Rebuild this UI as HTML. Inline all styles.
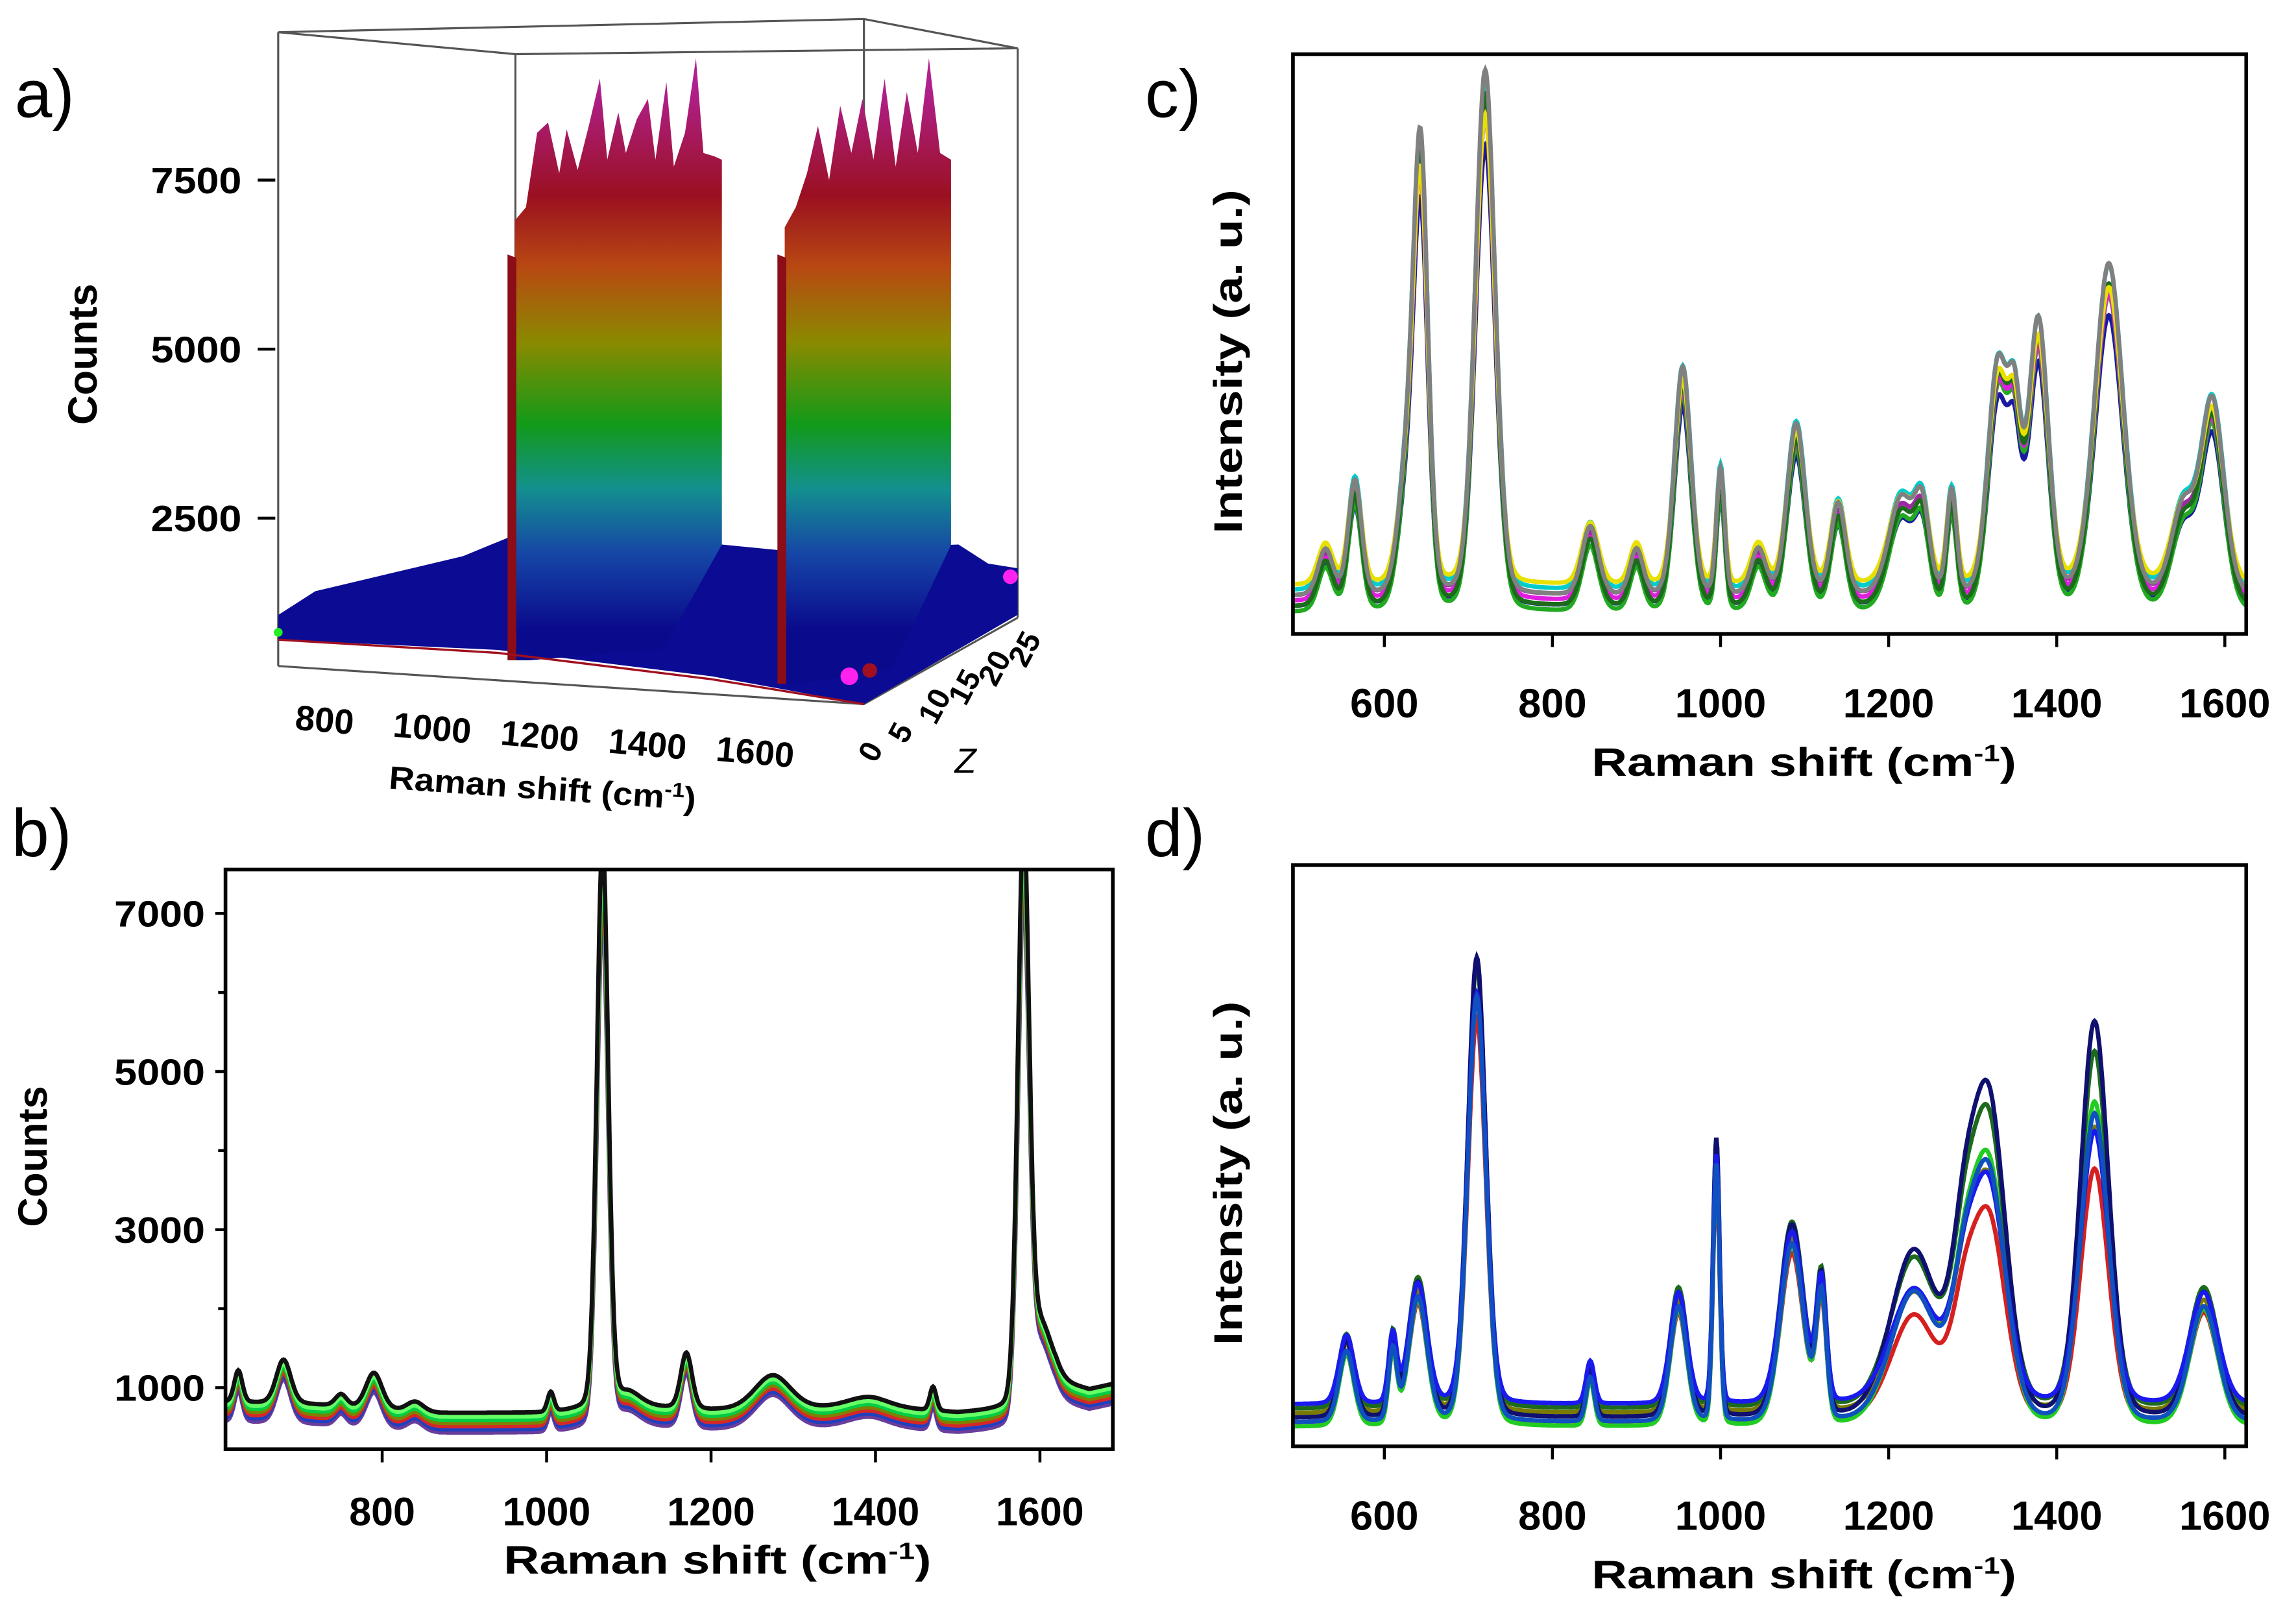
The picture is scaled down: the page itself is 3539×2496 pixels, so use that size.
<!DOCTYPE html>
<html><head><meta charset="utf-8"><style>
html,body{margin:0;padding:0;background:#fff;}
svg{display:block;}
text{font-family:"Liberation Sans",sans-serif;}
</style></head><body>
<svg id="fig" width="3539" height="2496" viewBox="0 0 1568 1106" preserveAspectRatio="none" xmlns="http://www.w3.org/2000/svg">
<defs>
<linearGradient id="rain" gradientUnits="userSpaceOnUse" x1="0" y1="60" x2="0" y2="430">
<stop offset="0" stop-color="#b0208e"/><stop offset="0.2" stop-color="#9a1020"/><stop offset="0.33" stop-color="#b84812"/>
<stop offset="0.47" stop-color="#8a8a00"/><stop offset="0.62" stop-color="#129a18"/><stop offset="0.74" stop-color="#13908e"/>
<stop offset="0.86" stop-color="#1646a6"/><stop offset="1" stop-color="#0a0a8c"/></linearGradient>
</defs>
<rect width="1568" height="1106" fill="#fff"/>
<g id="pa"></g>
<g id="pb"></g>
<g id="pc"></g>
<g id="pd"></g>
</svg>
<script>
// ---------- Panel b data ----------
const bTicksY = [1000, 3000, 5000, 7000];
const bMinorY = [2000, 4000, 6000];
const bTicksX = [800, 1000, 1200, 1400, 1600];
const bBaseX = [610, 700, 870, 1000, 1100, 1200, 1400, 1500, 1560, 1620, 1660, 1700];
const bBaseY = [700, 680, 560, 560, 650, 600, 640, 560, 600, 950, 850, 950];
const bPeakC = [625, 680, 750, 790, 840, 1005, 1068, 1100, 1170, 1275, 1390, 1470, 1580, 1600];
const bPeakH = [400, 550, 150, 450, 120, 250, 6850, 150, 700, 420, 120, 300, 6750, 800];
const bPeakW = [5, 9, 7, 10, 10, 4, 7, 15, 7, 22, 25, 4, 7, 14];
const bOffsets = [-130, -90, -50, -10, 30, 70, 120];
const bColors = ['#6a3d9a', '#1f3fbf', '#d62728', '#808000', '#00cc44', '#66ff66', '#111111'];
// ---------- Panel c data ----------
const cTicksX = [600, 800, 1000, 1200, 1400, 1600];
const cPeakC = [530, 565, 625, 643, 720, 845, 900, 955, 1000, 1045, 1090, 1140, 1215, 1240, 1275, 1330, 1350, 1378, 1462, 1550, 1585];
const cPeakH = [8, 20, 18, 78, 92, 12, 8, 40, 22, 8, 30, 16, 17, 14, 18, 40, 26, 48, 58, 15, 34];
const cPeakW = [9, 8, 10, 9, 12, 10, 8, 10, 5, 9, 11, 9, 15, 9, 6, 12, 8, 12, 17, 14, 14];
const cScale = [0.92, 0.96, 1.0, 1.03, 0.97, 1.02, 0.94, 1.05];
const cOffsets = [2, 4, 1, 5, 3, 2, 6, 4];
const cColors = ['#1a1aa0', '#9a2aa0', '#22aa22', '#00cccc', '#e01ee0', '#1c6b1c', '#e8e000', '#808080'];
// ---------- Panel d data ----------
const dPeakC = [555, 610, 640, 710, 845, 950, 995, 1085, 1120, 1230, 1290, 1320, 1445, 1575];
const dPeakH = [16, 16, 28, 96, 10, 26, 58, 40, 28, 30, 26, 55, 72, 26];
const dPeakW = [9, 5, 11, 11, 5, 10, 4, 14, 6, 28, 16, 20, 17, 17];
const dScale = [0.78, 0.88, 1.0, 1.1, 1.22, 0.84, 0.95];
const dOffsets = [4, 6, 3, 7, 5, 8, 4];
const dColors = ['#d62020', '#7a7a00', '#22cc22', '#1c6b1c', '#101070', '#1a1aee', '#1050c0'];
// ---------- Panel a data (column position u along box width 0..1, counts) ----------
const aTicksY = [2500, 5000, 7500];
const aTicksX = [800, 1000, 1200, 1400, 1600];
const aTicksZ = [0, 5, 10, 15, 20, 25];
const aBand1U = [0.32, 0.335, 0.35, 0.365, 0.38, 0.39, 0.405, 0.42, 0.435, 0.445, 0.46, 0.47, 0.485, 0.5, 0.51, 0.525, 0.535, 0.55, 0.565, 0.575, 0.59, 0.6];
const aBand1H = [6900, 7100, 8200, 8350, 7600, 8250, 7650, 8300, 9000, 7800, 8500, 7900, 8400, 8700, 7800, 8950, 7700, 8200, 9300, 7900, 7850, 7800];
const aBand2U = [0.685, 0.7, 0.715, 0.73, 0.745, 0.76, 0.775, 0.79, 0.805, 0.82, 0.835, 0.85, 0.865, 0.88, 0.895, 0.91];
const aBand2H = [6800, 7100, 7600, 8300, 7500, 8600, 7900, 8700, 7800, 9000, 7700, 8800, 7900, 9300, 7900, 7800];
const aBaseU = [0, 0.05, 0.15, 0.25, 0.317, 0.6, 0.685, 0.92, 0.96, 1];
const aBaseH = [1070, 1420, 1680, 1940, 2240, 2110, 2020, 2110, 1830, 1760];

const NS = 'http://www.w3.org/2000/svg';
function mk(parent, tag, attrs, txt) {
  const e = document.createElementNS(NS, tag);
  for (const k in attrs) e.setAttribute(k, attrs[k]);
  if (txt !== undefined) e.textContent = txt;
  parent.appendChild(e);
  return e;
}
function interp(xs, ys, x) {
  if (x <= xs[0]) return ys[0];
  for (let i = 1; i < xs.length; i++) if (x <= xs[i]) { const t = (x - xs[i-1]) / (xs[i] - xs[i-1]); return ys[i-1] + t * (ys[i] - ys[i-1]); }
  return ys[ys.length - 1];
}
function peaks(x, C, H, W, mult) {
  let s = 0;
  for (let i = 0; i < C.length; i++) { const u = (x - C[i]) / W[i]; s += H[i] * (mult ? mult(i) : 1) * (0.85 * Math.exp(-u * u / 2) + 0.15 / (1 + u * u)); }
  return s;
}
function title(g, x, y, s, len, size) {
  const t = mk(g, 'text', {x: x, y: y, 'font-size': size || 27, 'font-weight': 'bold', 'text-anchor': 'middle', textLength: len, lengthAdjust: 'spacingAndGlyphs'});
  t.textContent = s.main;
  mk(t, 'tspan', {'font-size': (size || 27) * 0.6, dy: -10}, s.sup);
  mk(t, 'tspan', {dy: 10}, ')');
  return t;
}

// ================= Panel b =================
(function(){
  const g = document.getElementById('pb');
  const L = 154, R = 760, T = 594, B = 990;
  const sx = v => 261 + (v - 800) * 0.5615;
  const sy = v => 948 - (v - 1000) * 0.054;
  const lab = mk(g, 'text', {x: 8, y: 585, 'font-size': 46}, 'b)');
  
  
  const cp = mk(mk(g, 'defs', {}), 'clipPath', {id: 'clipb'});
  mk(cp, 'rect', {x: L, y: T, width: R - L, height: B - T});
  const lines = mk(g, 'g', {'clip-path': 'url(#clipb)'});
  bOffsets.forEach((off, si) => {
    let d = '';
    for (let x = 600; x <= 1705; x += 1) {
      const v = interp(bBaseX, bBaseY, x) + peaks(x, bPeakC, bPeakH, bPeakW, i => (bPeakH[i] > 3000 ? 1 + off / 2500 : 1)) + off;
      d += (d ? 'L' : 'M') + sx(x).toFixed(1) + ' ' + sy(v).toFixed(1);
    }
    const p = mk(lines, 'path', {d: d, fill: 'none', stroke: bColors[si], 'stroke-width': 3});
    
    
  });
  const fr = mk(g, 'rect', {x: L, y: T, width: R - L, height: B - T, fill: 'none', stroke: '#000', 'stroke-width': 2.5});
  
  
  bTicksY.forEach(v => {
    mk(g, 'line', {x1: L - 7, x2: L, y1: sy(v), y2: sy(v), stroke: '#000', 'stroke-width': 2});
    const t = mk(g, 'text', {x: L - 14, y: sy(v) + 9, 'font-size': 25, 'font-weight': 'bold', 'text-anchor': 'end', textLength: 62, lengthAdjust: 'spacingAndGlyphs'}, String(v));
    
    
  });
  bMinorY.forEach(v => mk(g, 'line', {x1: L - 5, x2: L, y1: sy(v), y2: sy(v), stroke: '#000', 'stroke-width': 2}));
  bTicksX.forEach(v => {
    mk(g, 'line', {x1: sx(v), x2: sx(v), y1: B, y2: B + 9, stroke: '#000', 'stroke-width': 2});
    const t = mk(g, 'text', {x: sx(v), y: B + 52, 'font-size': 27, 'font-weight': 'bold', 'text-anchor': 'middle'}, String(v));
    
    
  });
  const xt = title(g, 490, 1075, {main: 'Raman shift (cm', sup: '-1'}, 292);
  
  
  const yt = mk(g, 'text', {x: 32, y: 790, 'font-size': 28, 'font-weight': 'bold', 'text-anchor': 'middle', transform: 'rotate(-90 32 790)'}, 'Counts');
  
  
})();

// ================= Panels c & d =================
function specPanel(gid, letter, T, B, base0, top100, C, H, W, scales, offs, cols, bigMult, labY) {
  const g = document.getElementById(gid);
  const L = 883, R = 1534;
  const sx = v => 1175 + (v - 1000) * 0.574;
  const sy = v => base0 - v * (base0 - top100) / 100;
  const lab = mk(g, 'text', {x: 782, y: labY, 'font-size': 46}, letter + ')');
  
  
  const cp = mk(mk(g, 'defs', {}), 'clipPath', {id: 'clip' + letter});
  mk(cp, 'rect', {x: L, y: T, width: R - L, height: B - T});
  const lines = mk(g, 'g', {'clip-path': `url(#clip${letter})`});
  scales.forEach((sc, si) => {
    let d = '';
    for (let x = 488; x <= 1630; x += 1) {
      const v = offs[si] + peaks(x, C, H, W, i => bigMult(i, sc));
      d += (d ? 'L' : 'M') + sx(x).toFixed(1) + ' ' + sy(v).toFixed(1);
    }
    const p = mk(lines, 'path', {d: d, fill: 'none', stroke: cols[si], 'stroke-width': 3});
    
    
  });
  const fr = mk(g, 'rect', {x: L, y: T, width: R - L, height: B - T, fill: 'none', stroke: '#000', 'stroke-width': 2.5});
  
  
  cTicksX.forEach(v => {
    mk(g, 'line', {x1: sx(v), x2: sx(v), y1: B, y2: B + 9, stroke: '#000', 'stroke-width': 2});
    const t = mk(g, 'text', {x: sx(v), y: B + 57, 'font-size': 28, 'font-weight': 'bold', 'text-anchor': 'middle'}, String(v));
    
    
  });
  const xt = title(g, 1232, B + 97, {main: 'Raman shift (cm', sup: '-1'}, 290);
  
  
  const ym = (T + B) / 2 + 12;
  const yt = mk(g, 'text', {x: 848, y: ym, 'font-size': 27, 'font-weight': 'bold', 'text-anchor': 'middle', textLength: 235, lengthAdjust: 'spacingAndGlyphs', transform: `rotate(-90 848 ${ym})`}, 'Intensity (a. u.)');
  
  
}
specPanel('pc', 'c', 37, 433, 422, 51, cPeakC, cPeakH, cPeakW, cScale, cOffsets, cColors, (i, sc) => sc, 80);
specPanel('pd', 'd', 591, 988, 984, 677, dPeakC, dPeakH, dPeakW, dScale, dOffsets, dColors, (i, sc) => (dPeakC[i] >= 1200 && dPeakC[i] <= 1460 ? sc : 1 + (sc - 1) * 0.3), 585);

// ================= Panel a (3D) =================
(function(){
  const g = document.getElementById('pa');
  const lab = mk(g, 'text', {x: 10, y: 80, 'font-size': 46}, 'a)');
  
  
  const pu = u => 190 + u * 505;
  const frontY = u => 437 + u * 44;
  const sy = c => 354 - (c - 2500) * 0.0462;
  const box = mk(g, 'g', {stroke: '#555', 'stroke-width': 1.4, fill: 'none'});
  
  
  mk(box, 'polyline', {points: '190,22 590,13 695,33 352,37 190,22'});
  mk(box, 'line', {x1: 352, y1: 37, x2: 352, y2: 400});
  mk(box, 'line', {x1: 695, y1: 33, x2: 695, y2: 422});
  let pts = '';
  aBaseU.forEach((u, i) => { pts += `${pu(u).toFixed(1)},${sy(aBaseH[i]).toFixed(1)} `; });
  pts += '695,420 590,481 486,462 340,444 190,437';
  const base = mk(g, 'polygon', {points: pts, fill: '#0b0b94'});
  
  
  function band(us, hs, name) {
    const u0 = us[0], u1 = us[us.length - 1];
    let p = `${pu(u0).toFixed(1)},${frontY(u0).toFixed(1)} `;
    us.forEach((u, i) => { p += `${pu(u).toFixed(1)},${sy(hs[i]).toFixed(1)} `; });
    p += `${pu(u1).toFixed(1)},${sy(interp(aBaseU, aBaseH, u1)).toFixed(1)} `;
    p += `${(pu(u1) - 40).toFixed(1)},${(frontY(u1) - 20).toFixed(1)} ${(pu(u0) + 10).toFixed(1)},${frontY(u0).toFixed(1)}`;
    const b = mk(g, 'polygon', {points: p, fill: 'url(#rain)'});
    
    
    const s = mk(g, 'polygon', {points: `${pu(u0)-5},${frontY(u0)} ${pu(u0)-5},${sy(6400)} ${pu(u0)+1},${sy(6350)} ${pu(u0)+1},${frontY(u0)}`, fill: '#8a0d18'});
    
    
  }
  band(aBand1U, aBand1H, 'surface-peak-1070');
  band(aBand2U, aBand2H, 'surface-peak-1580');
  mk(g, 'polyline', {points: '190,437 340,446 486,464 590,481', fill: 'none', stroke: '#a01020', 'stroke-width': 1.5});
  mk(box, 'line', {x1: 190, y1: 22, x2: 190, y2: 455});
  mk(box, 'line', {x1: 590, y1: 13, x2: 590, y2: 481});
  mk(box, 'polyline', {points: '190,455 590,481 695,422'});
  mk(g, 'circle', {cx: 580, cy: 462, r: 6, fill: '#ff22ee'});
  mk(g, 'circle', {cx: 594, cy: 458, r: 5, fill: '#a01020'});
  mk(g, 'circle', {cx: 690, cy: 394, r: 5, fill: '#ff22ee'});
  mk(g, 'circle', {cx: 190, cy: 432, r: 3, fill: '#22ee22'});
  aTicksY.forEach(v => {
    mk(g, 'line', {x1: 176, x2: 188, y1: sy(v), y2: sy(v), stroke: '#000', 'stroke-width': 2});
    const t = mk(g, 'text', {x: 165, y: sy(v) + 9, 'font-size': 25, 'font-weight': 'bold', 'text-anchor': 'end', textLength: 62, lengthAdjust: 'spacingAndGlyphs'}, String(v));
    
    
  });
  aTicksX.forEach((v, i) => {
    const x = 221 + i * 73.5, y = 500 + i * 5.5;
    const t = mk(g, 'text', {x: x, y: y, 'font-size': 24, 'font-weight': 'bold', 'text-anchor': 'middle', transform: `rotate(5 ${x} ${y})`}, String(v));
    
    
  });
  aTicksZ.forEach(v => {
    const x = 598 + v * 4.1, y = 522 - v * 2.6;
    const t = mk(g, 'text', {x: x, y: y, 'font-size': 21, 'font-weight': 'bold', 'text-anchor': 'start', transform: `rotate(-62 ${x} ${y})`}, String(v));
    
    
  });
  const zt = mk(g, 'text', {x: 652, y: 528, 'font-size': 24, 'font-style': 'italic'}, 'Z');
  
  
  const xt = mk(g, 'text', {x: 370, y: 546, 'font-size': 22, 'font-weight': 'bold', 'text-anchor': 'middle', textLength: 210, lengthAdjust: 'spacingAndGlyphs', transform: 'rotate(4 370 546)'}, 'Raman shift (cm');
  mk(xt, 'tspan', {'font-size': 14, dy: -8}, '-1');
  mk(xt, 'tspan', {dy: 8}, ')');
  
  
  const yt = mk(g, 'text', {x: 66, y: 242, 'font-size': 28, 'font-weight': 'bold', 'text-anchor': 'middle', transform: 'rotate(-90 66 242)'}, 'Counts');
  
  
})();
</script>
</body></html>
